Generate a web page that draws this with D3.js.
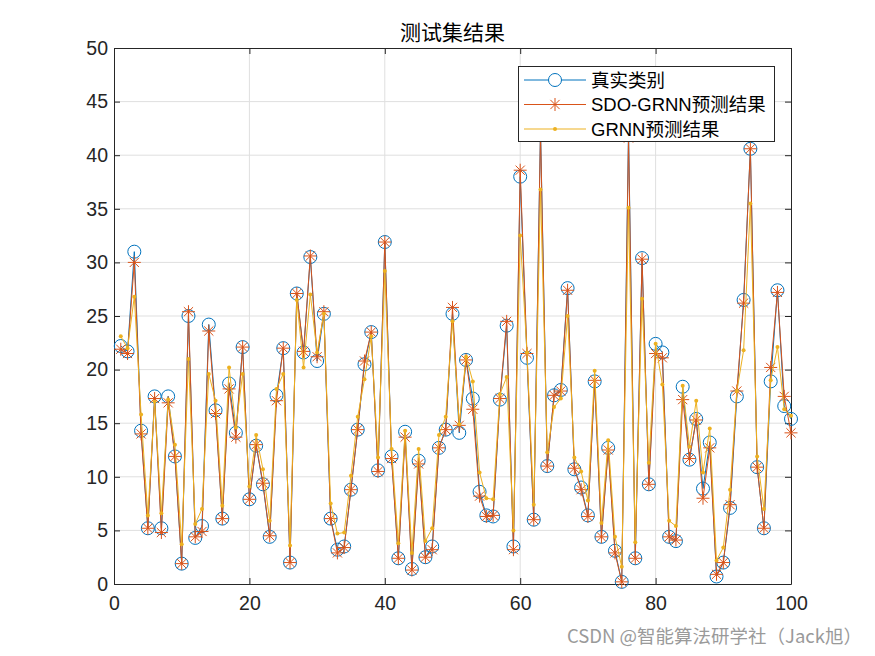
<!DOCTYPE html>
<html>
<head>
<meta charset="utf-8">
<script src="https://cdn.jsdelivr.net/npm/d3@7"></script>
<style>
  body { margin: 0; background: #fff; }
  text { font-family: "Liberation Sans", Arial, "Noto Sans CJK SC", sans-serif; }
</style>
</head>
<body>
<div id="chart"></div>
<script>
// values, sample index 1..100
var trueVals = [22.2,21.7,31.0,14.3,5.2,17.5,5.2,17.5,11.9,1.9,
  25.0,4.3,5.4,24.2,16.2,6.1,18.7,14.1,22.1,7.9,
  12.9,9.3,4.4,17.6,22.0,2.0,27.1,21.6,30.5,20.8,
  25.2,6.1,3.2,3.5,8.8,14.4,20.5,23.5,10.6,31.9,
  11.9,2.4,14.2,1.4,11.5,2.5,3.5,12.7,14.4,25.2,
  14.1,20.9,17.3,8.6,6.4,6.3,17.2,24.1,3.5,38.0,
  21.1,6.0,42.5,11.0,17.6,18.1,27.6,10.7,9.0,6.4,
  18.9,4.4,12.7,3.1,0.2,42.3,2.4,30.4,9.3,22.4,
  21.6,4.4,4.0,18.4,11.6,15.4,8.9,13.2,0.7,2.0,
  7.1,17.5,26.5,40.6,10.9,5.2,18.9,27.4,16.6,15.4];
var sdoVals = [21.9,21.5,30.0,14.0,5.2,17.3,4.8,16.9,11.9,1.9,
  25.4,4.4,4.9,23.6,15.9,6.1,18.2,13.7,22.1,7.9,
  13.0,9.4,4.5,17.1,22.0,2.0,27.1,21.7,30.6,21.2,
  25.4,6.1,2.9,3.4,8.8,14.4,20.8,23.5,10.5,31.9,
  11.7,2.4,13.7,1.3,11.2,2.5,3.2,12.7,14.4,25.8,
  14.8,20.9,16.3,8.2,6.3,6.4,17.3,24.5,3.2,38.6,
  21.5,6.0,42.2,11.0,17.6,18.0,27.4,10.8,8.8,6.3,
  19.0,4.4,12.5,2.9,0.2,41.6,2.4,30.3,9.3,21.5,
  21.1,4.4,4.1,17.2,11.7,15.3,8.0,12.7,0.9,2.0,
  7.4,18.0,26.2,40.6,10.9,5.2,20.2,27.2,17.5,14.1];
var grnnVals = [23.1,22.0,26.8,15.8,6.4,17.0,6.6,17.2,13.0,3.7,
  21.0,5.6,7.0,19.6,17.1,7.3,20.2,14.6,19.6,9.1,
  13.9,10.7,5.9,18.2,19.6,3.6,26.5,20.2,27.0,21.6,
  25.2,7.5,4.7,4.8,10.1,15.6,19.1,23.1,11.8,29.2,
  12.6,3.8,14.3,2.9,12.6,4.0,5.2,13.9,15.6,24.5,
  14.9,21.2,18.9,10.4,8.0,7.9,17.7,19.3,5.0,32.5,
  21.6,7.4,36.8,12.3,16.5,17.3,25.0,11.8,10.5,7.8,
  19.9,5.7,13.4,4.4,1.6,35.1,3.9,26.6,11.3,22.4,
  18.6,5.9,5.4,18.5,12.8,17.1,10.4,14.5,2.2,3.4,
  8.8,18.0,21.8,35.5,11.9,7.0,19.0,22.1,16.3,15.7];
var xTicks = [0,20,40,60,80,100];
var yTicks = [0,5,10,15,20,25,30,35,40,45,50];
var legendNames = ["真实类别","SDO-GRNN预测结果","GRNN预测结果"];

var width = 875, height = 656;
var pLeft = 114, pRight = 791, pTop = 48, pBottom = 584;

var svg = d3.select("#chart").append("svg")
  .attr("width", width).attr("height", height);

var x = d3.scaleLinear().domain([0,100]).range([pLeft,pRight]);
var y = d3.scaleLinear().domain([0,50]).range([pBottom,pTop]);

// grid
svg.append("g").selectAll("line").data(xTicks.slice(1,-1)).enter().append("line")
  .attr("x1", d => x(d)).attr("x2", d => x(d)).attr("y1", pTop).attr("y2", pBottom)
  .attr("stroke", "#dfdfdf").attr("stroke-width", 1);
svg.append("g").selectAll("line").data(yTicks.slice(1,-1)).enter().append("line")
  .attr("x1", pLeft).attr("x2", pRight).attr("y1", d => y(d)).attr("y2", d => y(d))
  .attr("stroke", "#dfdfdf").attr("stroke-width", 1);

// axes, ticks inward
var xAxis = d3.axisBottom(x).tickValues(xTicks).tickSizeInner(-6).tickSizeOuter(0).tickPadding(12);
var yAxis = d3.axisLeft(y).tickValues(yTicks).tickSizeInner(-6).tickSizeOuter(0).tickPadding(6);
var gx = svg.append("g").attr("transform", "translate(0," + pBottom + ")").call(xAxis);
var gy = svg.append("g").attr("transform", "translate(" + pLeft + ",0)").call(yAxis);
var gx2 = svg.append("g").attr("transform", "translate(0," + pTop + ")")
  .call(d3.axisTop(x).tickValues(xTicks).tickSizeInner(-6).tickSizeOuter(0).tickFormat(""));
var gy2 = svg.append("g").attr("transform", "translate(" + pRight + ",0)")
  .call(d3.axisRight(y).tickValues(yTicks).tickSizeInner(-6).tickSizeOuter(0).tickFormat(""));
[gx, gy, gx2, gy2].forEach(function(g) {
  g.select(".domain").attr("stroke", "#262626");
  g.selectAll(".tick line").attr("stroke", "#262626");
  g.selectAll(".tick text").attr("fill", "#262626").style("font-size", "19.5px");
});

var blue = "#0072BD", red = "#D95319", yellow = "#EDB120";
var line = d3.line().x((d, i) => x(i + 1)).y(d => y(d));

// true values: line + circles
svg.append("path").datum(trueVals).attr("d", line)
  .attr("fill", "none").attr("stroke", blue).attr("stroke-width", 1);
svg.append("g").selectAll("circle").data(trueVals).enter().append("circle")
  .attr("cx", (d, i) => x(i + 1)).attr("cy", d => y(d)).attr("r", 6.5)
  .attr("fill", "none").attr("stroke", blue).attr("stroke-width", 1);

// asterisk marker
function star(g, cx, cy, r, color) {
  var s = g.append("g").attr("transform", "translate(" + cx + "," + cy + ")");
  var d = r * 0.7071;
  [[-r,0,r,0],[0,-r,0,r],[-d,-d,d,d],[-d,d,d,-d]].forEach(function(p) {
    s.append("line").attr("x1", p[0]).attr("y1", p[1]).attr("x2", p[2]).attr("y2", p[3])
      .attr("stroke", color).attr("stroke-width", 1);
  });
}

svg.append("path").datum(sdoVals).attr("d", line)
  .attr("fill", "none").attr("stroke", red).attr("stroke-width", 1);
var sg = svg.append("g");
sdoVals.forEach(function(v, i) { star(sg, x(i + 1), y(v), 6.5, red); });

svg.append("path").datum(grnnVals).attr("d", line)
  .attr("fill", "none").attr("stroke", yellow).attr("stroke-width", 1);
svg.append("g").selectAll("circle").data(grnnVals).enter().append("circle")
  .attr("cx", (d, i) => x(i + 1)).attr("cy", d => y(d)).attr("r", 2)
  .attr("fill", yellow);

// title
svg.append("text").attr("x", (pLeft + pRight) / 2).attr("y", 40)
  .attr("text-anchor", "middle").attr("fill", "#000").style("font-size", "21px")
  .style("font-family", "'Noto Sans CJK SC', sans-serif").text("测试集结果");

// legend
var lg = svg.append("g");
lg.append("rect").attr("x", 518.5).attr("y", 66.5).attr("width", 256).attr("height", 75)
  .attr("fill", "#fff").attr("stroke", "#262626").attr("stroke-width", 1);
var colors = [blue, red, yellow];
legendNames.forEach(function(name, i) {
  var ly = 80 + i * 24.5;
  lg.append("line").attr("x1", 524).attr("x2", 586).attr("y1", ly).attr("y2", ly)
    .attr("stroke", colors[i]).attr("stroke-width", 1);
  if (i === 0) {
    lg.append("circle").attr("cx", 555).attr("cy", ly).attr("r", 6.5)
      .attr("fill", "#fff").attr("stroke", blue);
  } else if (i === 1) {
    star(lg, 555, ly, 6.5, red);
  } else {
    lg.append("circle").attr("cx", 555).attr("cy", ly).attr("r", 2).attr("fill", yellow);
  }
  lg.append("text").attr("x", 591).attr("y", ly + 6.5).attr("fill", "#000")
    .style("font-size", "18.5px").style("font-family", "'Liberation Sans', 'Noto Sans CJK SC', sans-serif")
    .text(name);
});

// watermark
svg.append("text").attr("x", 862).attr("y", 643).attr("text-anchor", "end")
  .attr("fill", "#9a9a9a").style("font-size", "18.5px")
  .style("font-family", "'Noto Sans CJK SC', sans-serif")
  .text("CSDN @智能算法研学社（Jack旭）");
</script>
</body>
</html>
